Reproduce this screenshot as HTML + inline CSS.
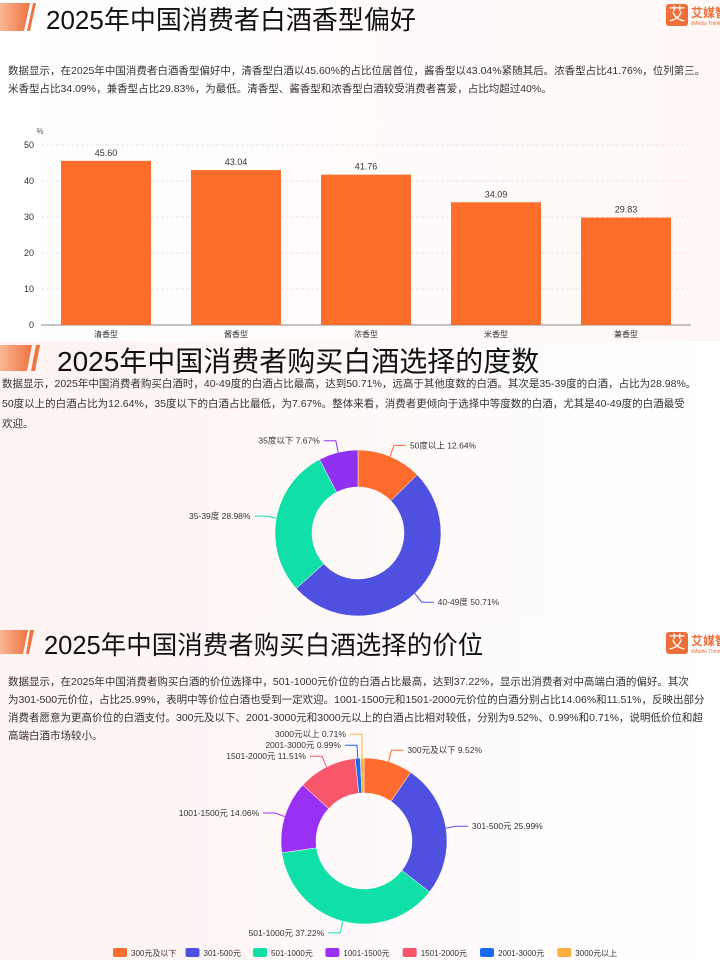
<!DOCTYPE html>
<html><head><meta charset="utf-8">
<style>
body{margin:0;width:720px;height:960px;overflow:hidden;background:#fff;font-family:"Liberation Sans","Noto Sans CJK SC",sans-serif;}
.sec{position:absolute;left:0;width:720px;}
.title{position:absolute;color:#111;white-space:nowrap;}
.mk{position:absolute;}
.p{position:absolute;left:8px;width:712px;font-size:10.5px;color:#333;line-height:18px;white-space:nowrap;}
.logo{position:absolute;right:0;width:68px;height:28px;}
</style></head><body>
<div class="sec" style="top:0;height:342px;background:linear-gradient(90deg,#fff 0%,#fff8f6 100%);">
 <svg class="mk" style="left:0;top:3px" width="36" height="28"><defs><linearGradient id="g1"><stop offset="0" stop-color="#fbb796"/><stop offset="1" stop-color="#ee7440"/></linearGradient></defs><polygon points="0,0 30,0 24,28 0,28" fill="url(#g1)"/><polygon points="27,28 33,0 36,0 30,28" fill="#ee7440"/></svg>
 <div class="title" style="left:46px;top:0px;font-size:26px">2025年中国消费者白酒香型偏好</div>
 <div class="logo" style="top:4px"><div style="position:absolute;left:14px;top:0;width:22px;height:22px;background:#ee6f3a;border-radius:3px;color:#fff;font-size:17px;text-align:center;line-height:22px">艾</div><div style="position:absolute;left:39px;top:0;color:#ee6f3a;font-size:12px;font-weight:bold;white-space:nowrap">艾媒智</div><div style="position:absolute;left:39px;top:17px;color:#ee6f3a;font-size:5px;white-space:nowrap">iiMedia Think</div></div>
 <div class="p" style="top:62px">数据显示，在2025年中国消费者白酒香型偏好中，清香型白酒以45.60%的占比位居首位，酱香型以43.04%紧随其后。浓香型占比41.76%，位列第三。<br>米香型占比34.09%，兼香型占比29.83%，为最低。清香型、酱香型和浓香型白酒较受消费者喜爱，占比均超过40%。</div>
 <svg id="bar" style="position:absolute;left:0;top:0" width="720" height="342"></svg>
</div>
<div class="sec" style="top:342px;height:278px;background:linear-gradient(90deg,#fdf3f0 0%,#fff 100%);">
 <svg class="mk" style="left:0;top:3px" width="40" height="26"><defs><linearGradient id="g2"><stop offset="0" stop-color="#fbb796"/><stop offset="1" stop-color="#ee7440"/></linearGradient></defs><polygon points="0,0 32,0 27,26 0,26" fill="url(#g2)"/><polygon points="31,26 36,0 40,0 35,26" fill="#ee7440"/></svg>
 <div class="title" style="left:57px;top:-2px;font-size:28px">2025年中国消费者购买白酒选择的度数</div>
 <div class="p" style="top:32px;left:2px;line-height:20px">数据显示，2025年中国消费者购买白酒时，40-49度的白酒占比最高，达到50.71%，远高于其他度数的白酒。其次是35-39度的白酒，占比为28.98%。<br>50度以上的白酒占比为12.64%，35度以下的白酒占比最低，为7.67%。整体来看，消费者更倾向于选择中等度数的白酒，尤其是40-49度的白酒最受<br>欢迎。</div>
 <svg id="d1" style="position:absolute;left:0;top:0" width="720" height="278"></svg>
</div>
<div class="sec" style="top:620px;height:340px;background:linear-gradient(90deg,#fdf3f2 0%,#fff 100%);">
 <svg class="mk" style="left:0;top:10px" width="34" height="24"><defs><linearGradient id="g3"><stop offset="0" stop-color="#fbb796"/><stop offset="1" stop-color="#ee7440"/></linearGradient></defs><polygon points="0,0 28,0 23,24 0,24" fill="url(#g3)"/><polygon points="26,24 30,0 34,0 29,24" fill="#ee7440"/></svg>
 <div class="title" style="left:44px;top:5px;font-size:25.5px">2025年中国消费者购买白酒选择的价位</div>
 <div class="logo" style="top:12px"><div style="position:absolute;left:14px;top:0;width:22px;height:22px;background:#ee6f3a;border-radius:3px;color:#fff;font-size:17px;text-align:center;line-height:22px">艾</div><div style="position:absolute;left:39px;top:0;color:#ee6f3a;font-size:12px;font-weight:bold;white-space:nowrap">艾媒智</div><div style="position:absolute;left:39px;top:17px;color:#ee6f3a;font-size:5px;white-space:nowrap">iiMedia Think</div></div>
 <div class="p" style="top:53px">数据显示，在2025年中国消费者购买白酒的价位选择中，501-1000元价位的白酒占比最高，达到37.22%，显示出消费者对中高端白酒的偏好。其次<br>为301-500元价位，占比25.99%，表明中等价位白酒也受到一定欢迎。1001-1500元和1501-2000元价位的白酒分别占比14.06%和11.51%，反映出部分<br>消费者愿意为更高价位的白酒支付。300元及以下、2001-3000元和3000元以上的白酒占比相对较低，分别为9.52%、0.99%和0.71%，说明低价位和超<br>高端白酒市场较小。</div>
 <svg id="d2" style="position:absolute;left:0;top:0" width="720" height="340"></svg>
</div>
<script>
const barCats=["清香型","酱香型","浓香型","米香型","兼香型"];
const barVals=[45.60,43.04,41.76,34.09,29.83];
const barTicks=[0,10,20,30,40,50];
const abvCats=["50度以上","40-49度","35-39度","35度以下"];
const abvVals=[12.64,50.71,28.98,7.67];
const priceCats=["300元及以下","301-500元","501-1000元","1001-1500元","1501-2000元","2001-3000元","3000元以上"];
const priceVals=[9.52,25.99,37.22,14.06,11.51,0.99,0.71];
const NS="http://www.w3.org/2000/svg";
function mk(p,t,a){const e=document.createElementNS(NS,t);for(const k in a)e.setAttribute(k,a[k]);p.appendChild(e);return e;}
(function(){
 const s=document.getElementById('bar');
 const x0=41,x1=691,yb=325,yt=145,max=50;
 const y=v=>yb-(v/max)*(yb-yt);
 const bw=(x1-x0)/barCats.length;
 const t=mk(s,'text',{x:40,y:134,'font-size':8,fill:'#555','text-anchor':'middle'});t.textContent='%';
 
 barTicks.forEach(v=>{
  const l=mk(s,'line',{x1:x0,x2:x1,y1:y(v),y2:y(v),stroke:v?'#e6e6e6':'#888','stroke-dasharray':v?'3,2':'', 'stroke-width':1});
  
  const tx=mk(s,'text',{x:34,y:y(v)+3,'font-size':9,fill:'#333','text-anchor':'end'});tx.textContent=v;
  
 });
 barCats.forEach((c,i)=>{
  const cx=x0+bw*(i+0.5);
  const r=mk(s,'rect',{x:cx-45,y:y(barVals[i]),width:90,height:yb-y(barVals[i]),fill:'#fd6e2a'});
  
  const v=mk(s,'text',{x:cx,y:y(barVals[i])-5,'font-size':9,fill:'#333','text-anchor':'middle'});v.textContent=barVals[i].toFixed(2);
  
  const lb=mk(s,'text',{x:cx,y:337,'font-size':8,fill:'#333','text-anchor':'middle'});lb.textContent=c;
  
 });
})();
function donut(id,cats,vals,colors,cx,cy,R,r,fs,legendY){
 const s=document.getElementById(id);
 const tot=vals.reduce((a,b)=>a+b,0);
 let a0=-Math.PI/2;const labs=[];
 vals.forEach((v,i)=>{
  const a1=a0+v/tot*2*Math.PI;
  const pt=(rad,a)=>[cx+rad*Math.cos(a),cy+rad*Math.sin(a)];
  const [x1,y1]=pt(R,a0),[x2,y2]=pt(R,a1),[x3,y3]=pt(r,a1),[x4,y4]=pt(r,a0);
  const lg=(a1-a0)>Math.PI?1:0;
  const p=mk(s,'path',{d:`M${x1},${y1}A${R},${R} 0 ${lg} 1 ${x2},${y2}L${x3},${y3}A${r},${r} 0 ${lg} 0 ${x4},${y4}Z`,fill:colors[i],stroke:'#fff','stroke-width':0.5});
  
  const am=(a0+a1)/2;labs.push({i,am,right:Math.cos(am)>=0,y:cy+(R+12)*Math.sin(am)});
  a0=a1;
 });
 const left=labs.filter(l=>!l.right).sort((a,b)=>b.y-a.y);
 for(let k=1;k<left.length;k++) if(left[k-1].y-left[k].y<11) left[k].y=left[k-1].y-11;
 const right=labs.filter(l=>l.right).sort((a,b)=>a.y-b.y);
 for(let k=1;k<right.length;k++) if(right[k].y-right[k-1].y<11) right[k].y=right[k-1].y+11;
 labs.forEach(l=>{
  const sx=cx+R*Math.cos(l.am),sy=cy+R*Math.sin(l.am);
  const ex=cx+(R+10)*Math.cos(l.am);
  const hx=ex+(l.right?12:-12);
  const pl=mk(s,'polyline',{points:`${sx},${sy} ${ex},${l.y} ${hx},${l.y}`,fill:'none',stroke:colors[l.i],'stroke-width':1});
  
  const t=mk(s,'text',{x:hx+(l.right?4:-4),y:l.y+3,'font-size':fs,fill:'#333','text-anchor':l.right?'start':'end'});
  t.textContent=cats[l.i]+' '+vals[l.i].toFixed(2)+'%';
  
 });
 if(legendY){
  let x=113;
  cats.forEach((c,i)=>{
   const g=mk(s,'g',{});
   
   mk(g,'rect',{x:x,y:legendY-5,width:14,height:9,rx:2,fill:colors[i]});
   const t=mk(g,'text',{x:x+18,y:legendY+3,'font-size':8,fill:'#333'});t.textContent=c;
   x+=18+c.length*8.2+(c.match(/[0-9\-]/g)||[]).length*-3.3+7;
  });
 }
}
donut('d1',abvCats,abvVals,['#fd6b2d','#5050e0','#10e0a8','#9030f0'],358,191,83,46,8.5,0);
donut('d2',priceCats,priceVals,['#fd6b2d','#5050e0','#10e0a8','#9b30f5','#f8566a','#1a6af0','#fdb040'],364,221,83,48,8.5,333);
</script>
</body></html>
